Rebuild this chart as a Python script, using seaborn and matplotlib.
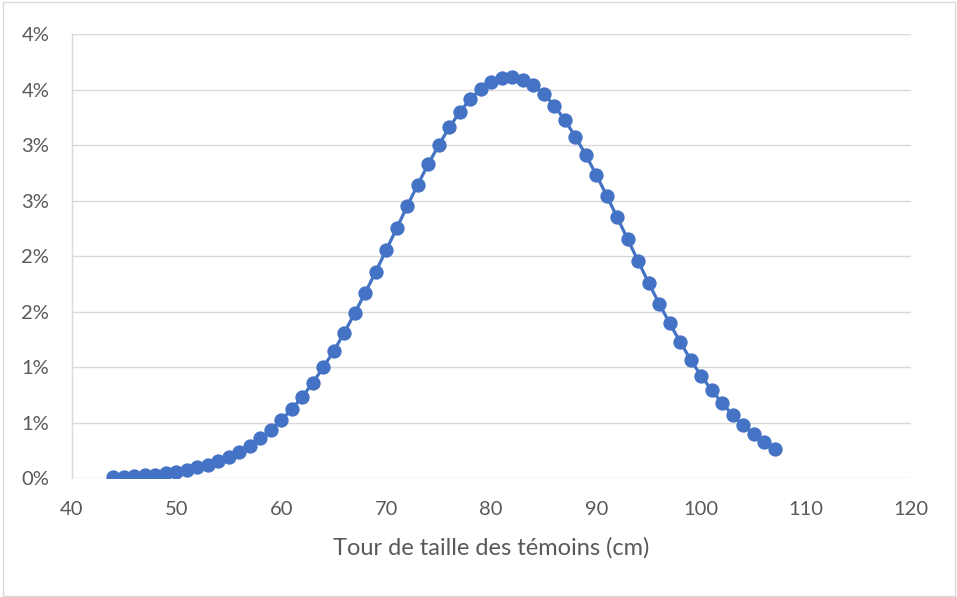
import matplotlib
matplotlib.use("Agg")
import matplotlib.pyplot as plt
import matplotlib.ticker as mticker
from matplotlib.patches import Rectangle
import seaborn as sns
import pandas as pd
import decimal

tour_cm = list(range(44, 108))
pct = [0.009, 0.014, 0.021, 0.027, 0.032, 0.045, 0.059, 0.075, 0.099, 0.123,
       0.153, 0.195, 0.240, 0.294, 0.360, 0.435, 0.525, 0.624, 0.735, 0.861,
       1.000, 1.147, 1.312, 1.489, 1.672, 1.861, 2.057, 2.252, 2.453, 2.645,
       2.829, 3.000, 3.159, 3.297, 3.414, 3.505, 3.570, 3.604, 3.609, 3.588,
       3.541, 3.462, 3.354, 3.228, 3.077, 2.913, 2.732, 2.546, 2.348, 2.153,
       1.955, 1.759, 1.573, 1.396, 1.228, 1.068, 0.922, 0.795, 0.676, 0.570,
       0.480, 0.396, 0.327, 0.267]
y_ticks = [0, 0.5, 1.0, 1.5, 2.0, 2.5, 3.0, 3.5, 4.0]
x_ticks = [40, 50, 60, 70, 80, 90, 100, 110, 120]
x_label = "Tour de taille des témoins (cm)"

df = pd.DataFrame({"x": tour_cm, "y": [v / 100 for v in pct]})

sns.set_theme(style="white")
plt.rcParams['font.family'] = ['Lato', 'DejaVu Sans']

fig = plt.figure(figsize=(9.57, 5.97), dpi=100)
ax = fig.add_axes([71.5 / 957, 1 - 478.3 / 597, (911 - 71.5) / 957, (478.3 - 34) / 597])

sns.lineplot(data=df, x="x", y="y", ax=ax, color="#4472C4", linewidth=2.3,
             marker="o", markersize=10.3, markeredgewidth=0, zorder=3)

ax.set_xlim(40, 120)
ax.set_ylim(0, 0.04)
ax.set_xticks(x_ticks)
ax.set_yticks([t / 100 for t in y_ticks])


def pct_fmt(v, pos):
    d = decimal.Decimal(str(round(v * 100, 6))).quantize(decimal.Decimal("1"), rounding=decimal.ROUND_HALF_UP)
    return f"{d}%"


ax.yaxis.set_major_formatter(mticker.FuncFormatter(pct_fmt))
ax.grid(axis="y", color="#D9D9D9", linewidth=1.0)
ax.grid(axis="x", visible=False)
for s in ["top", "right", "bottom"]:
    ax.spines[s].set_visible(False)
ax.spines["left"].set_color("#D9D9D9")
ax.spines["left"].set_linewidth(1.0)
ax.tick_params(axis="both", length=0, labelsize=14.5, colors="#595959")
ax.tick_params(axis="x", pad=16)
ax.tick_params(axis="y", pad=16)
ax.set_xlabel(x_label, fontsize=17, color="#595959", labelpad=14)
ax.set_ylabel("")

fig.patches.append(Rectangle((2.5 / 957, 1.5 / 597), 952 / 957, 593.5 / 597,
                             transform=fig.transFigure, fill=False,
                             edgecolor="#D9D9D9", linewidth=1.0))

fig.savefig("out.png", dpi=100)
